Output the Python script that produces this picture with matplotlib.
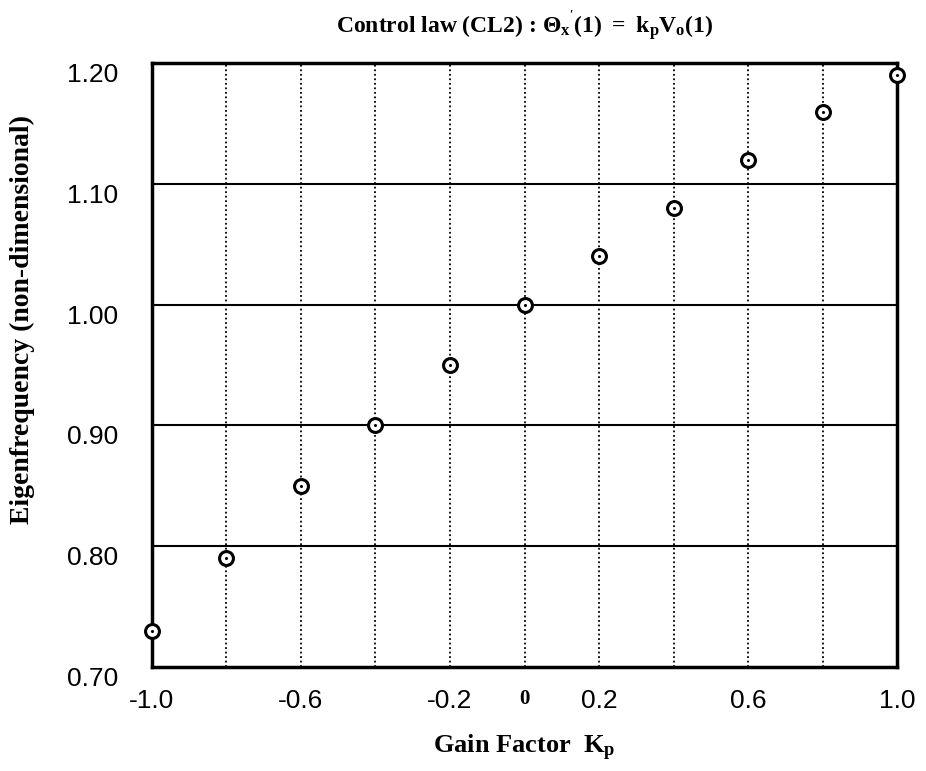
import matplotlib
matplotlib.use("Agg")
import matplotlib.pyplot as plt

# data
gain = [-1.0, -0.8, -0.6, -0.4, -0.2, 0.0, 0.2, 0.4, 0.6, 0.8, 1.0]
freq = [0.73, 0.79, 0.85, 0.90, 0.95, 1.00, 1.04, 1.08, 1.12, 1.16, 1.19]

x_ticks = [-1.0, -0.8, -0.6, -0.4, -0.2, 0.0, 0.2, 0.4, 0.6, 0.8, 1.0]
x_labels = ["-1.0", "", "-0.6", "", "-0.2", "0", "0.2", "", "0.6", "", "1.0"]
y_ticks = [0.70, 0.80, 0.90, 1.00, 1.10, 1.20]
y_labels = ["0.70", "0.80", "0.90", "1.00", "1.10", "1.20"]

plt.rcParams["mathtext.fontset"] = "custom"
plt.rcParams["mathtext.rm"] = "Liberation Serif:bold"
plt.rcParams["mathtext.it"] = "Liberation Serif:bold"
plt.rcParams["mathtext.bf"] = "Liberation Serif:bold"

fig = plt.figure(figsize=(9.26, 7.71), dpi=100)
ax = fig.add_axes([0.164, 0.135, 0.805, 0.783])

ax.set_xlim(-1.0, 1.0)
ax.set_ylim(0.70, 1.20)

# gridlines: dotted verticals, solid horizontals
for xv in x_ticks[1:-1]:
    ax.axvline(xv, color="black", linestyle=(0, (1, 1.5)), linewidth=1.3, zorder=1)
for yv in y_ticks[1:-1]:
    ax.axhline(yv, color="black", linestyle="-", linewidth=1.5, zorder=1)

# circles with a dot in the middle
ax.plot(gain, freq, linestyle="none", marker="o", markersize=10,
        markerfacecolor="white", markeredgecolor="black", markeredgewidth=2.2,
        clip_on=False, zorder=3)
ax.plot(gain, freq, linestyle="none", marker="o", markersize=1.2,
        color="black", clip_on=False, zorder=4)

for sp in ax.spines.values():
    sp.set_linewidth(2.5)

ax.set_xticks(x_ticks)
ax.set_xticklabels(x_labels)
ax.set_yticks(y_ticks)
ax.set_yticklabels(y_labels)
ax.tick_params(axis="x", length=0, labelsize=19, pad=16)
ax.tick_params(axis="y", length=0, labelsize=19, pad=24)
for lab in ax.get_xticklabels():
    lab.set_family("Liberation Sans")
    if lab.get_text() == "0":
        lab.set_family("Liberation Serif")
        lab.set_fontweight("bold")
        lab.set_fontsize(15)
for lab in ax.get_yticklabels():
    lab.set_family("Liberation Sans")
    lab.set_verticalalignment("top")

ax.set_title(r"Control law (CL2) : $\Theta_x{}^{'}(1)\ =\ k_p V_o(1)$",
             family="Liberation Serif", fontweight="bold", fontsize=17, pad=22)
ax.set_xlabel(r"Gain Factor  K$_p$", family="Liberation Serif",
              fontweight="bold", fontsize=19, labelpad=14)
ax.set_ylabel("Eigenfrequency (non-dimensional)", family="Liberation Serif",
              fontweight="bold", fontsize=20)
ax.yaxis.set_label_coords(-0.157, 0.575)

fig.savefig("out.png", dpi=100)
